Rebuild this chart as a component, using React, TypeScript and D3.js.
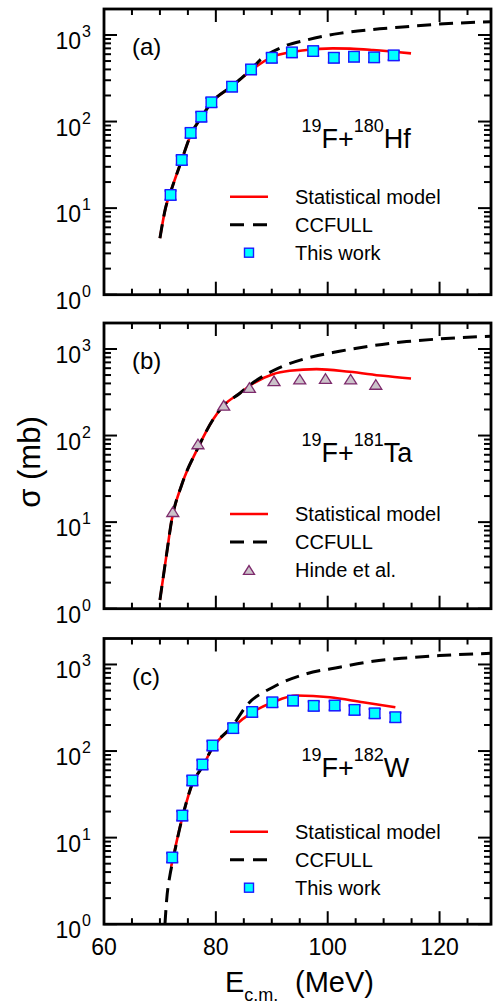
import React from 'react';
import * as d3 from 'd3';

const W = 495;
const H = 1003;
const FONT = 'Arial, "Liberation Sans", Helvetica, sans-serif';

// (a) 19F + 180Hf, this work
const expA_E = [71.9, 73.9, 75.5, 77.4, 79.2, 82.9, 86.3, 90.0, 93.6, 97.4, 101.1, 104.7, 108.3, 111.8];
const expA_S = [14.2, 36, 74, 114, 167, 253, 400, 546, 630, 652, 546, 561, 552, 582];
const expA_err = [1.7, 4.3, 9, 14, 20, 30, 48, 66, 76, 78, 66, 67, 66, 70];
const smA_E = [70, 71, 72, 73.9, 75.5, 77.4, 79.2, 82.9, 86.3, 90.2, 96.2, 100.9, 104, 108.1, 114.9];
const smA_S = [4.5, 10, 16, 36, 70, 112, 165, 255, 390, 562, 670, 700, 695, 670, 613];
const ccA_E = [70, 71, 72, 73.9, 75.5, 77.4, 79.2, 82.9, 86.3, 87.9, 92, 96.2, 102.1, 108.1, 114, 120, 129.2];
const ccA_S = [4.5, 10, 16, 36, 70, 112, 165, 258, 400, 513, 731, 874, 1043, 1159, 1244, 1336, 1419];

// (b) 19F + 181Ta, Hinde et al.
const expB_E = [72.3, 76.8, 81.4, 86.0, 90.4, 95.0, 99.6, 104.1, 108.6];
const expB_S = [13.2, 80, 223, 359, 428, 448, 456, 448, 389];
const smB_E = [70, 71.2, 72.1, 73.9, 76.8, 79.5, 81.4, 84.3, 86, 90.2, 93.2, 98, 103.9, 109.9, 114.9];
const smB_S = [1.26, 4.3, 10.5, 27, 72, 153, 223, 308, 374, 512, 560, 585, 545, 490, 456];
const ccB_E = [70, 71.2, 72.1, 73.9, 76.8, 79.5, 81.4, 84.3, 86, 90.2, 96.2, 102.1, 108.1, 114.1, 120, 129.2];
const ccB_S = [1.26, 4.3, 10.5, 27, 72, 153, 223, 308, 380, 560, 780, 940, 1092, 1217, 1307, 1406];

// (c) 19F + 182W, this work
const expC_E = [72.2, 74.0, 75.8, 77.6, 79.4, 83.1, 86.5, 90.1, 93.8, 97.5, 101.25, 104.8, 108.4, 112.1];
const expC_S = [5.9, 18, 45.8, 70, 116, 184, 283, 366, 383, 333, 336, 299, 273, 246];
const expC_err = [0.7, 2.2, 5.5, 8.4, 14, 22, 34, 44, 46, 40, 40, 36, 33, 30];
const smC_E = [72, 74, 75.8, 77.6, 79.4, 83.1, 86.5, 90.2, 94.4, 100.4, 106.3, 112.1];
const smC_S = [4.6, 17, 42, 66, 108, 190, 280, 366, 438, 419, 366, 321];
const ccC_E = [70.9, 71.2, 71.8, 72.2, 74, 75.8, 77.6, 79.4, 83.1, 85.5, 90.2, 96.2, 102.1, 108.1, 114.1, 120, 129.2];
const ccC_S = [1, 1.9, 3.7, 5.0, 17, 42, 66, 110, 200, 336, 546, 780, 929, 1089, 1191, 1268, 1346];

const panelNames = ['(a)', '(b)', '(c)'];
const targetMass = ['180', '181', '182'];
const targetSym = ['Hf', 'Ta', 'W'];
const legendLabels = ['Statistical model', 'CCFULL'];
const dataLabels = ['This work', 'Hinde et al.', 'This work'];
const xMajor = [60, 80, 100, 120];

const panels = [
  { sm: [smA_E, smA_S], cc: [ccA_E, ccA_S], exp: [expA_E, expA_S], err: expA_err, marker: 'square' },
  { sm: [smB_E, smB_S], cc: [ccB_E, ccB_S], exp: [expB_E, expB_S], err: null, marker: 'triangle' },
  { sm: [smC_E, smC_S], cc: [ccC_E, ccC_S], exp: [expC_E, expC_S], err: expC_err, marker: 'square' },
];

// layout
const x0 = 104;
const x1 = 491;
const tops = [9, 323, 638.5];
const panelH = 285.7;
const legendY = [196.7, 514, 831.7];
const labelY = [148, 461.7, 776.7];

const xScale = d3.scaleLinear().domain([60, 129.2]).range([x0, x1]);

const SQ_FILL = '#00ffff';
const SQ_STROKE = '#1a1aff';
const TRI_FILL = '#cbc2c9';
const TRI_STROKE = '#7d2a6c';

const zip = (a: number[], b: number[]) => a.map((v, i) => [v, b[i]] as [number, number]);

function Square({ x, y, s }: { x: number; y: number; s: number }) {
  return <rect x={x - s / 2} y={y - s / 2} width={s} height={s} fill={SQ_FILL} stroke={SQ_STROKE} strokeWidth={1.4} />;
}

function Triangle({ x, y, s }: { x: number; y: number; s: number }) {
  const h = s * 0.8;
  return (
    <path
      d={`M${x - s / 2},${y + h / 2}L${x + s / 2},${y + h / 2}L${x},${y - h / 2}Z`}
      fill={TRI_FILL}
      stroke={TRI_STROKE}
      strokeWidth={1.3}
    />
  );
}

function Panel({ idx }: { idx: number }) {
  const p = panels[idx];
  const top = tops[idx];
  const bottom = top + panelH;
  const y = d3.scaleLog().domain([1, Math.pow(10, 3.3)]).range([bottom, top]);
  const line = d3
    .line<[number, number]>()
    .x((d) => xScale(d[0]))
    .y((d) => y(d[1]))
    .curve(d3.curveMonotoneX);

  const yTicks = y.ticks().filter((t) => t <= y.domain()[1]);
  const xTicks = d3.range(60, 129, 5);
  const exp = zip(p.exp[0], p.exp[1]);
  const ly = legendY[idx];

  return (
    <g>
      {/* curves */}
      <path d={line(zip(p.sm[0], p.sm[1])) || ''} fill="none" stroke="#ff0000" strokeWidth={2.6} />
      <path d={line(zip(p.cc[0], p.cc[1])) || ''} fill="none" stroke="#000" strokeWidth={3} strokeDasharray="14 8" />

      {/* data */}
      {exp.map((d, i) => {
        const cx = xScale(d[0]);
        const cy = y(d[1]);
        if (p.marker === 'triangle') return <Triangle key={i} x={cx} y={cy} s={12} />;
        const e = p.err![i];
        const yHi = y(d[1] + e);
        const yLo = y(d[1] - e);
        return (
          <g key={i}>
            <line x1={cx} x2={cx} y1={yHi} y2={yLo} stroke={SQ_STROKE} strokeWidth={1.5} />
            <line x1={cx - 6} x2={cx + 6} y1={yHi} y2={yHi} stroke={SQ_STROKE} strokeWidth={2} />
            <line x1={cx - 6} x2={cx + 6} y1={yLo} y2={yLo} stroke={SQ_STROKE} strokeWidth={2} />
            <Square x={cx} y={cy} s={10.5} />
          </g>
        );
      })}

      {/* ticks */}
      {xTicks.map((t) => {
        const len = xMajor.includes(t) ? 13 : 6;
        const px = xScale(t);
        return (
          <g key={'x' + t} stroke="#000" strokeWidth={2}>
            <line x1={px} x2={px} y1={bottom} y2={bottom - len} />
            <line x1={px} x2={px} y1={top} y2={top + len} />
          </g>
        );
      })}
      {yTicks.map((t) => {
        const major = Math.abs(Math.log10(t) - Math.round(Math.log10(t))) < 1e-6;
        const len = major ? 13 : 7;
        const py = y(t);
        return (
          <g key={'y' + t} stroke="#000" strokeWidth={2}>
            <line x1={x0} x2={x0 + len} y1={py} y2={py} />
            <line x1={x1} x2={x1 - len} y1={py} y2={py} />
          </g>
        );
      })}
      {yTicks
        .filter((t) => Math.abs(Math.log10(t) - Math.round(Math.log10(t))) < 1e-6)
        .map((t) => (
          <g key={'yl' + t} fontFamily={FONT} fill="#000">
            <text x={81} y={y(t) + 14} fontSize={23} textAnchor="end">10</text>
            <text x={82} y={y(t) + 2} fontSize={16}>{Math.round(Math.log10(t))}</text>
          </g>
        ))}

      {/* frame */}
      <rect x={x0} y={top} width={x1 - x0} height={panelH} fill="none" stroke="#000" strokeWidth={2.8} />

      {/* panel text */}
      <text x={132} y={top + 46} fontFamily={FONT} fontSize={24}>{panelNames[idx]}</text>
      <text x={301.5} y={labelY[idx]} fontFamily={FONT} fontSize={27}>
        <tspan fontSize={18} dy={-16}>19</tspan>
        <tspan dy={16}>F+</tspan>
        <tspan fontSize={18} dy={-16}>{targetMass[idx]}</tspan>
        <tspan dy={16}>{targetSym[idx]}</tspan>
      </text>

      {/* legend */}
      <line x1={230} x2={268} y1={ly} y2={ly} stroke="#ff0000" strokeWidth={2.6} />
      <line x1={230} x2={268} y1={ly + 28} y2={ly + 28} stroke="#000" strokeWidth={3} strokeDasharray="14 9" />
      {p.marker === 'triangle' ? <Triangle x={249} y={ly + 56} s={11} /> : <Square x={249} y={ly + 56} s={9} />}
      {[legendLabels[0], legendLabels[1], dataLabels[idx]].map((s, i) => (
        <text key={s} x={295} y={ly + i * 28 + 7} fontFamily={FONT} fontSize={20}>{s}</text>
      ))}
    </g>
  );
}

export default function App() {
  const bottomC = tops[2] + panelH;
  return (
    <svg width={W} height={H} style={{ position: 'absolute', left: 0, top: 0, background: '#fff' }}>
      <rect width={W} height={H} fill="#fff" />
      {panels.map((_, i) => (
        <Panel key={i} idx={i} />
      ))}
      {xMajor.map((t) => (
        <text key={t} x={xScale(t)} y={bottomC + 31} fontFamily={FONT} fontSize={23} textAnchor="middle">{t}</text>
      ))}
      <text x={225} y={991.5} fontFamily={FONT} fontSize={29}>
        E<tspan fontSize={18} dy={9}>c.m.</tspan>
        <tspan x={295} dy={-9}>(MeV)</tspan>
      </text>
      <text transform="translate(40,462) rotate(-90)" fontFamily={FONT} fontSize={31} textAnchor="middle">σ (mb)</text>
    </svg>
  );
}
